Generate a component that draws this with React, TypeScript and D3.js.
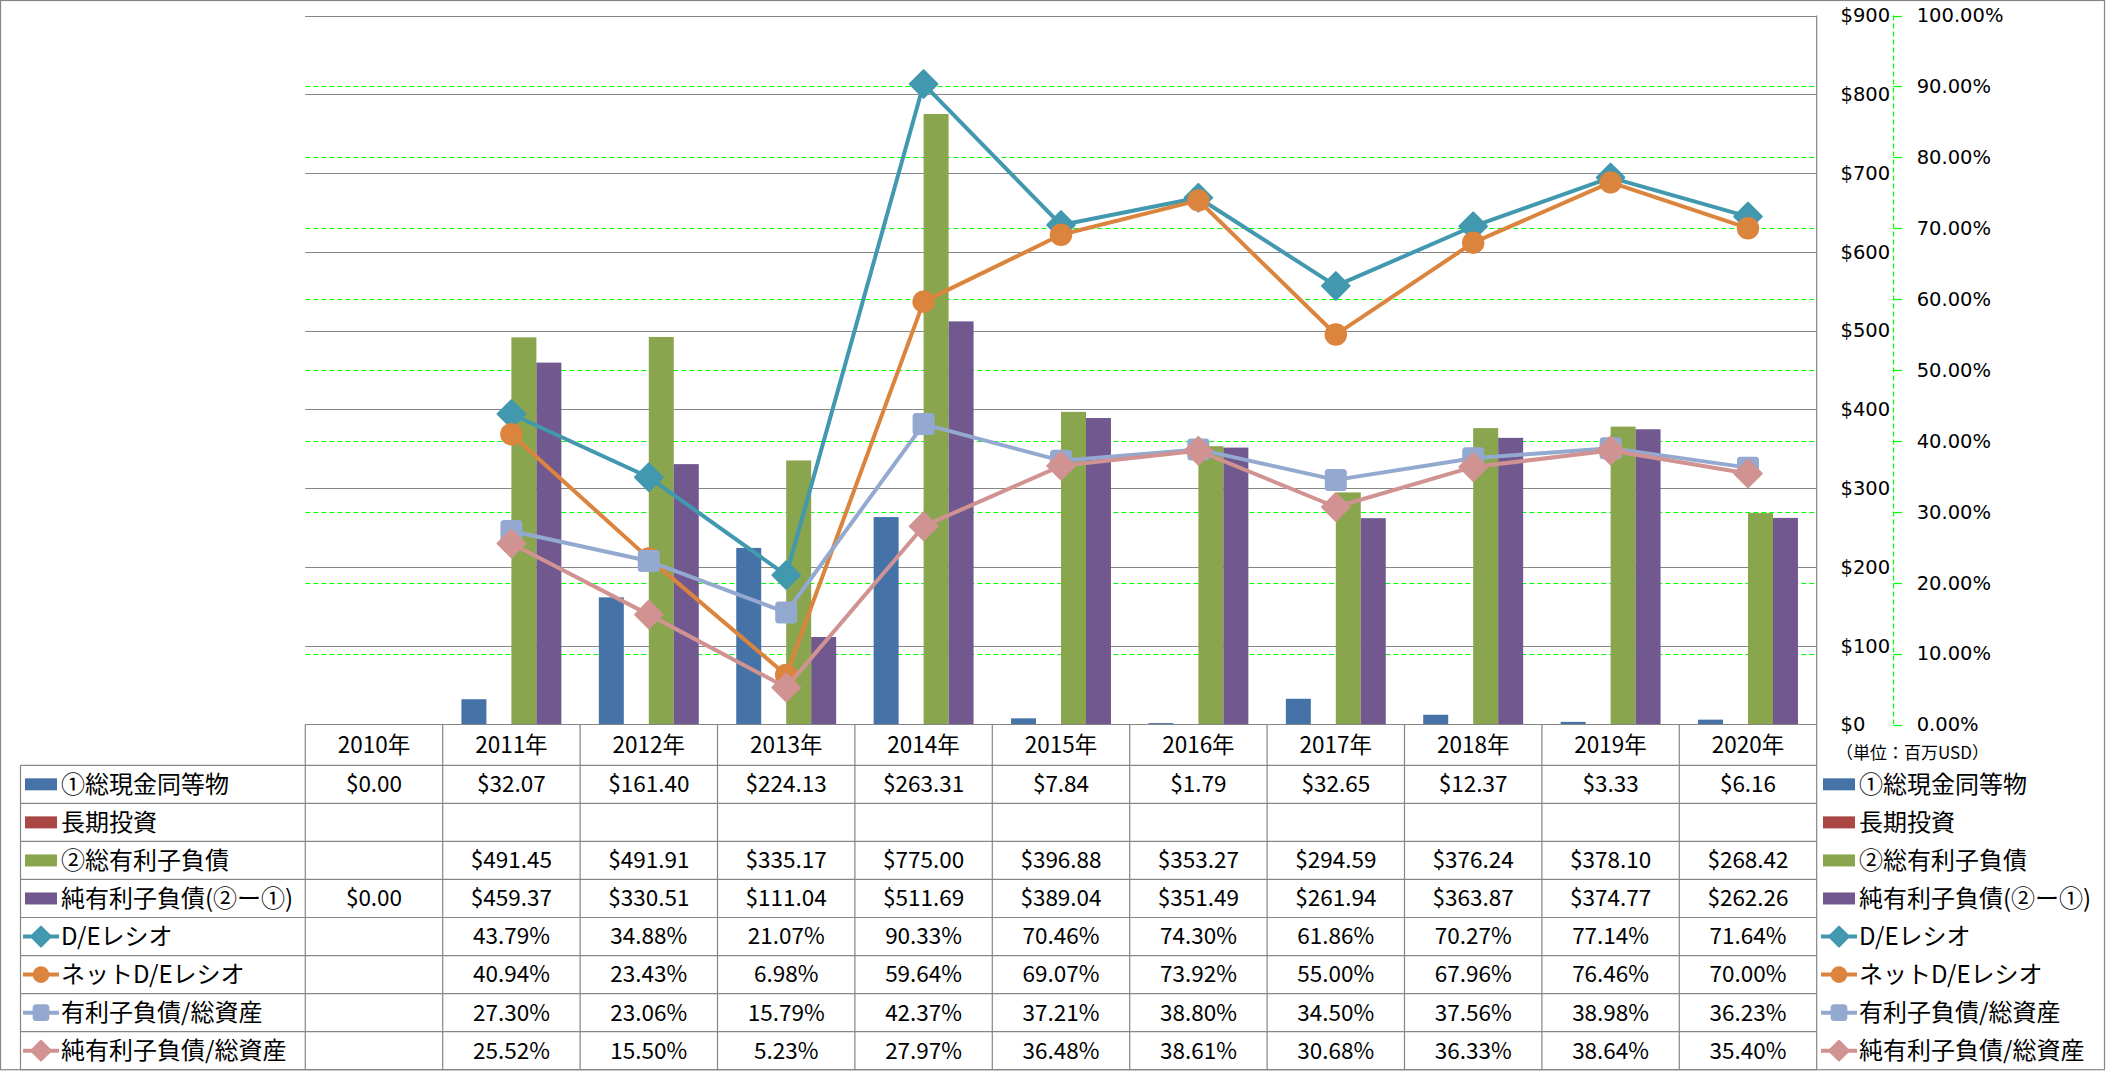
import React from "react";
import * as d3 from "d3";

// ---- data ----
const categories = ["2010年", "2011年", "2012年", "2013年", "2014年", "2015年", "2016年", "2017年", "2018年", "2019年", "2020年"];
const cashEquivalents: (number | null)[] = [0, 32.07, 161.4, 224.13, 263.31, 7.84, 1.79, 32.65, 12.37, 3.33, 6.16];
const longTermInvestment: (number | null)[] = [null, null, null, null, null, null, null, null, null, null, null];
const totalDebt: (number | null)[] = [null, 491.45, 491.91, 335.17, 775.0, 396.88, 353.27, 294.59, 376.24, 378.1, 268.42];
const netDebt: (number | null)[] = [0, 459.37, 330.51, 111.04, 511.69, 389.04, 351.49, 261.94, 363.87, 374.77, 262.26];
const deRatio: (number | null)[] = [null, 43.79, 34.88, 21.07, 90.33, 70.46, 74.3, 61.86, 70.27, 77.14, 71.64];
const netDeRatio: (number | null)[] = [null, 40.94, 23.43, 6.98, 59.64, 69.07, 73.92, 55.0, 67.96, 76.46, 70.0];
const debtToAssets: (number | null)[] = [null, 27.3, 23.06, 15.79, 42.37, 37.21, 38.8, 34.5, 37.56, 38.98, 36.23];
const netDebtToAssets: (number | null)[] = [null, 25.52, 15.5, 5.23, 27.97, 36.48, 38.61, 30.68, 36.33, 38.64, 35.4];

const barNames = ["①総現金同等物", "長期投資", "②総有利子負債", "純有利子負債(②ー①)"];
const lineNames = ["D/Eレシオ", "ネットD/Eレシオ", "有利子負債/総資産", "純有利子負債/総資産"];
const unitLabel = "（単位：百万USD）";
const usdTicks = [0, 100, 200, 300, 400, 500, 600, 700, 800, 900];
const pctTicks = [0, 10, 20, 30, 40, 50, 60, 70, 80, 90, 100];

const barColors = ["#4572A7", "#AA4643", "#89A54E", "#71588F"];
const lineColors = ["#4198AF", "#DB843D", "#93A9CF", "#D19392"];
const markerKinds = ["diamond", "circle", "square", "diamond"];

// ---- layout ----
const W = 2106;
const H = 1071;
const plotLeft = 305.3;
const plotRight = 1816.7;
const plotTop = 15.5;
const plotBottom = 724.5;
const headerBottom = 765.3;
const tableBottom = 1069.7;
const legendLeft = 20.5;
const nRows = 8;
const rowH = (tableBottom - headerBottom) / nRows;

const FONT_T = "'Noto Sans CJK JP', 'Noto Sans', sans-serif";
const FONT_AX = "'DejaVu Sans', 'Noto Sans CJK JP', sans-serif";

const x = d3.scaleBand<string>().domain(categories).range([plotLeft, plotRight]).padding(0);
const xInner = d3
  .scaleBand<number>()
  .domain([0, 1, 2, 3])
  .range([0, x.bandwidth()])
  .paddingInner(0)
  .paddingOuter(0.75);
const yUsd = d3.scaleLinear().domain([0, 900]).range([plotBottom, plotTop]);
const yPct = d3.scaleLinear().domain([0, 100]).range([plotBottom, plotTop]);

const fmtUsd = d3.format("$.2f");
const fmtPct = (v: number) => d3.format(".2f")(v) + "%";
const fmtUsdTick = d3.format("$.0f");
const fmtPctTick = (v: number) => d3.format(".2f")(v) + "%";

const barSeries = [cashEquivalents, longTermInvestment, totalDebt, netDebt];
const lineSeries = [deRatio, netDeRatio, debtToAssets, netDebtToAssets];

function Marker({ kind, cx, cy, color, scale = 1 }: { kind: string; cx: number; cy: number; color: string; scale?: number }) {
  if (kind === "circle") {
    return <circle cx={cx} cy={cy} r={10.5 * scale} fill={color} stroke={color} strokeWidth={1.5} />;
  }
  if (kind === "square") {
    const s = 19 * scale;
    return (
      <rect x={cx - s / 2} y={cy - s / 2} width={s} height={s} fill={color} stroke={color} strokeWidth={3} strokeLinejoin="round" rx={2} />
    );
  }
  const side = 19.5 * scale;
  const p = d3.symbol(d3.symbolSquare, side * side)() as string;
  return (
    <path d={p} transform={`translate(${cx},${cy}) rotate(45)`} fill={color} stroke={color} strokeWidth={2} strokeLinejoin="round" />
  );
}

export default function App() {
  const cx = (i: number) => (x(categories[i]) as number) + x.bandwidth() / 2;
  const rowCy = (r: number) => headerBottom + rowH * (r + 0.5);
  const colBounds = d3.range(categories.length + 1).map((i) => plotLeft + i * x.bandwidth());

  const lineGen = d3
    .line<number | null>()
    .defined((d) => d !== null)
    .x((_, i) => cx(i))
    .y((d) => yPct(d as number));

  const rowValues: { vals: (number | null)[]; fmt: (v: number) => string }[] = [
    { vals: cashEquivalents, fmt: fmtUsd },
    { vals: longTermInvestment, fmt: fmtUsd },
    { vals: totalDebt, fmt: fmtUsd },
    { vals: netDebt, fmt: fmtUsd },
    { vals: deRatio, fmt: fmtPct },
    { vals: netDeRatio, fmt: fmtPct },
    { vals: debtToAssets, fmt: fmtPct },
    { vals: netDebtToAssets, fmt: fmtPct },
  ];

  const legendKey = (r: number, kx: number) => {
    const cy = rowCy(r);
    if (r < 4) {
      return <rect x={kx} y={cy - 6} width={32} height={12} fill={barColors[r]} />;
    }
    const li = r - 4;
    return (
      <g>
        <line x1={kx - 2} x2={kx + 34} y1={cy} y2={cy} stroke={lineColors[li]} strokeWidth={4} />
        <Marker kind={markerKinds[li]} cx={kx + 16} cy={cy} color={lineColors[li]} scale={0.72} />
      </g>
    );
  };

  const allNames = [...barNames, ...lineNames];

  return (
    <div style={{ position: "absolute", left: 0, top: 0, width: W, height: H, background: "#fff" }}>
      <svg width={W} height={H} style={{ display: "block" }}>
        <rect x={0} y={0} width={W} height={H} fill="#fff" />
        {/* outer border */}
        <rect x={0.5} y={0.5} width={2104} height={1069.2} fill="none" stroke="#868686" strokeWidth={1.2} />

        {/* green secondary gridlines */}
        {pctTicks.slice(1).map((t) => (
          <line
            key={"g" + t}
            x1={plotLeft}
            x2={plotRight}
            y1={Math.round(yPct(t)) + 0.5}
            y2={Math.round(yPct(t)) + 0.5}
            stroke="#00FF00"
            strokeWidth={1.2}
            strokeDasharray="5,3"
          />
        ))}
        {/* grey primary gridlines */}
        {usdTicks.slice(1).map((t) => (
          <line
            key={"p" + t}
            x1={plotLeft}
            x2={plotRight}
            y1={Math.round(yUsd(t)) + 0.5}
            y2={Math.round(yUsd(t)) + 0.5}
            stroke="#868686"
            strokeWidth={1.2}
          />
        ))}

        {/* bars */}
        {barSeries.map((s, si) =>
          s.map((v, i) =>
            v === null ? null : (
              <rect
                key={`b${si}-${i}`}
                x={(x(categories[i]) as number) + (xInner(si) as number)}
                y={yUsd(v)}
                width={xInner.bandwidth()}
                height={yUsd(0) - yUsd(v)}
                fill={barColors[si]}
              />
            )
          )
        )}

        {/* lines */}
        {lineSeries.map((s, li) => (
          <g key={"l" + li}>
            <path d={lineGen(s) as string} fill="none" stroke={lineColors[li]} strokeWidth={4} strokeLinejoin="round" />
            {s.map((v, i) =>
              v === null ? null : <Marker key={i} kind={markerKinds[li]} cx={cx(i)} cy={yPct(v)} color={lineColors[li]} />
            )}
          </g>
        ))}

        {/* primary axis line (right) */}
        <line x1={plotRight} x2={plotRight} y1={plotTop} y2={plotBottom} stroke="#868686" strokeWidth={1.2} />
        {usdTicks.map((t) => (
          <text key={"ut" + t} x={1840.5} y={yUsd(t)} dy="0.35em" fontFamily={FONT_AX} fontSize={19.5} fill="#000">
            {fmtUsdTick(t)}
          </text>
        ))}
        {/* secondary axis */}
        <line x1={1893.5} x2={1893.5} y1={plotTop} y2={plotBottom} stroke="#00FF00" strokeWidth={1.2} strokeDasharray="5,3" />
        {pctTicks.map((t) => (
          <g key={"pt" + t}>
            <line x1={1893.5} x2={1902} y1={Math.round(yPct(t)) + 0.5} y2={Math.round(yPct(t)) + 0.5} stroke="#00FF00" strokeWidth={1.2} />
            <text x={1916.7} y={yPct(t)} dy="0.35em" fontFamily={FONT_AX} fontSize={19.5} fill="#000">
              {fmtPctTick(t)}
            </text>
          </g>
        ))}
        <text x={1836} y={753} dy="0.35em" fontFamily={FONT_T} fontSize={17} fill="#000">
          {unitLabel}
        </text>

        {/* data table grid */}
        <line x1={plotLeft} x2={plotRight} y1={plotBottom} y2={plotBottom} stroke="#868686" strokeWidth={1.2} />
        {d3.range(nRows + 1).map((r) => (
          <line
            key={"h" + r}
            x1={legendLeft}
            x2={plotRight}
            y1={headerBottom + r * rowH}
            y2={headerBottom + r * rowH}
            stroke="#868686"
            strokeWidth={1.2}
          />
        ))}
        {colBounds.map((bx, i) => (
          <line key={"v" + i} x1={bx} x2={bx} y1={plotBottom} y2={tableBottom} stroke="#868686" strokeWidth={1.2} />
        ))}
        <line x1={legendLeft} x2={legendLeft} y1={headerBottom} y2={tableBottom} stroke="#868686" strokeWidth={1.2} />

        {/* header */}
        {categories.map((c, i) => (
          <text key={"c" + i} x={cx(i)} y={(plotBottom + headerBottom) / 2} dy="0.35em" textAnchor="middle" fontFamily={FONT_T} fontSize={22.5} fill="#000">
            {c}
          </text>
        ))}

        {/* table values */}
        {rowValues.map((row, r) =>
          row.vals.map((v, i) =>
            v === null ? null : (
              <text key={`t${r}-${i}`} x={cx(i)} y={rowCy(r)} dy="0.35em" textAnchor="middle" fontFamily={FONT_T} fontSize={22.5} fill="#000">
                {row.fmt(v)}
              </text>
            )
          )
        )}

        {/* left legend in table */}
        {allNames.map((n, r) => (
          <g key={"ll" + r}>
            {legendKey(r, 25)}
            <text x={61} y={rowCy(r)} dy="0.35em" fontFamily={FONT_T} fontSize={24} fill="#000">
              {n}
            </text>
          </g>
        ))}
        {/* right legend */}
        {allNames.map((n, r) => (
          <g key={"rl" + r}>
            {legendKey(r, 1823)}
            <text x={1859} y={rowCy(r)} dy="0.35em" fontFamily={FONT_T} fontSize={24} fill="#000">
              {n}
            </text>
          </g>
        ))}
      </svg>
    </div>
  );
}
